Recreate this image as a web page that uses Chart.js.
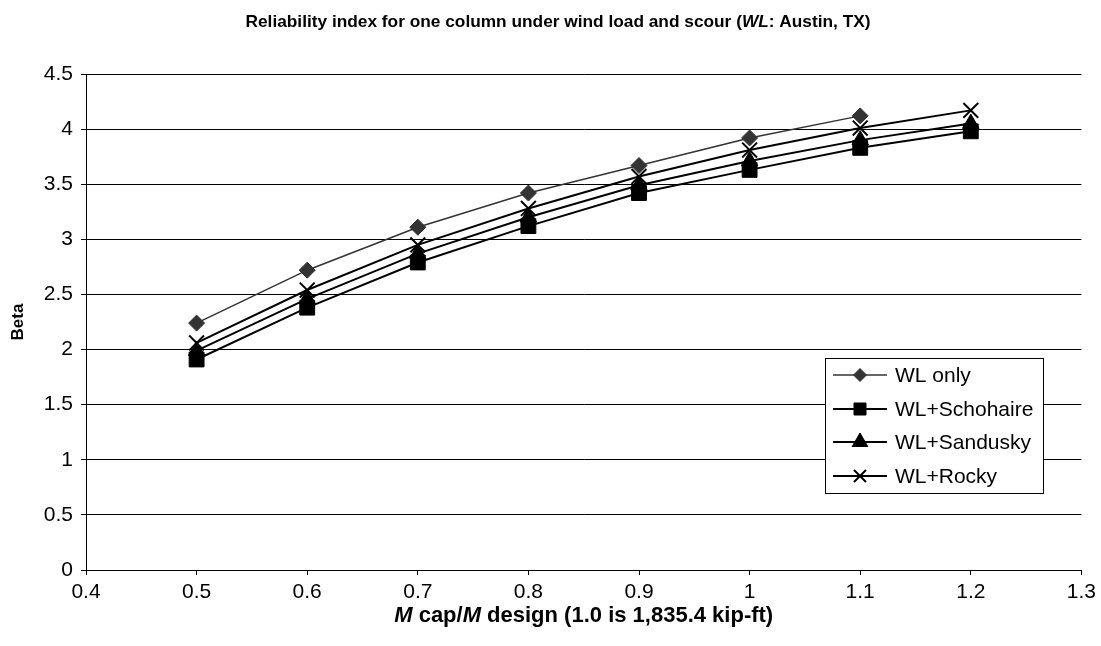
<!DOCTYPE html>
<html><head><meta charset="utf-8">
<script src="https://cdn.jsdelivr.net/npm/chart.js@4/dist/chart.umd.min.js"></script>
<style>html,body{margin:0;padding:0;background:#fff;}#wrap{width:1101px;height:646px;position:relative;}</style>
</head><body><div id="wrap"><canvas id="c" width="1101" height="646"></canvas></div>
<script>
// ---- data ----
const xValues = [0.5, 0.6, 0.7, 0.8, 0.9, 1.0, 1.1, 1.2];
const seriesLabels = ['WL only', 'WL+Schohaire', 'WL+Sandusky', 'WL+Rocky'];
const wlOnly      = [2.24, 2.72, 3.11, 3.42, 3.67, 3.92, 4.12, null];
const wlSchohaire = [1.91, 2.38, 2.79, 3.12, 3.42, 3.63, 3.83, 3.98];
const wlSandusky  = [1.99, 2.46, 2.87, 3.20, 3.49, 3.71, 3.90, 4.05];
const wlRocky     = [2.06, 2.54, 2.95, 3.28, 3.57, 3.81, 4.01, 4.17];
const xAxisRange = [0.4, 1.3, 0.1];
const yAxisRange = [0, 4.5, 0.5];

const FAM = '"Liberation Sans", Arial, Helvetica, sans-serif';

function pts(vals){ return xValues.map((x,i)=>({x:x, y:vals[i]})).filter(p=>p.y!==null); }
function fmt(v){ return String(Number(v.toFixed(2))); }

const styles = [
  {color:'#333333', width:1.5, style:'rectRot', r:8, lr:6.5, bw:1},
  {color:'#000000', width:2, style:'rect', r:10.5, lr:8.5, bw:1},
  {color:'#000000', width:2, style:'triangle', r:9.5, lr:9, bw:1},
  {color:'#000000', width:2, style:'crossRot', r:10.5, lr:8.5, bw:2}
];
const allVals = [wlOnly, wlSchohaire, wlSandusky, wlRocky];

const datasets = allVals.map((v,i)=>({
  label: seriesLabels[i],
  data: pts(v),
  showLine: true,
  borderColor: styles[i].color,
  backgroundColor: styles[i].color,
  borderWidth: styles[i].width,
  pointStyle: styles[i].style,
  pointRadius: styles[i].r,
  pointBorderWidth: styles[i].bw,
  pointBorderColor: styles[i].color,
  pointBackgroundColor: styles[i].color,
  tension: 0
}));

function drawRich(ctx, parts, cx, cy){
  let total = 0;
  parts.forEach(p=>{ ctx.font = p.f; p.w = ctx.measureText(p.t).width; total += p.w; });
  let x = cx - total/2;
  ctx.textBaseline = 'middle'; ctx.textAlign = 'left'; ctx.fillStyle = '#000';
  parts.forEach(p=>{ ctx.font = p.f; ctx.fillText(p.t, x, cy); x += p.w; });
}

const annotations = {
  id: 'annotations',
  afterDraw(chart){
    const ctx = chart.ctx;
    const ca = chart.chartArea;
    ctx.save();
    const B = 'bold 17.3px ' + FAM, BI = 'italic bold 17.3px ' + FAM;
    drawRich(ctx, [
      {t:'Reliability index for one column under wind load and scour (', f:B},
      {t:'WL', f:BI},
      {t:': Austin, TX)', f:B}
    ], 558, 22);
    const XB = 'bold 22px ' + FAM, XBI = 'italic bold 22px ' + FAM;
    drawRich(ctx, [
      {t:'M', f:XBI}, {t:' cap/', f:XB}, {t:'M', f:XBI},
      {t:' design (1.0 is 1,835.4 kip-ft)', f:XB}
    ], (ca.left+ca.right)/2, 616);
    // y title
    ctx.save();
    ctx.translate(18, (ca.top+ca.bottom)/2);
    ctx.rotate(-Math.PI/2);
    ctx.font = 'bold 17px ' + FAM; ctx.textAlign='center'; ctx.textBaseline='middle';
    ctx.fillText('Beta', 0, 0);
    ctx.restore();
    // legend
    const lx = 825, ly = 358, lw = 218, lh = 135;
    ctx.fillStyle = '#fff';
    ctx.fillRect(lx, ly, lw, lh);
    ctx.strokeStyle = '#000'; ctx.lineWidth = 1;
    ctx.strokeRect(lx+0.5, ly+0.5, lw, lh);
    const rows = [375, 409, 442, 476];
    chart.data.datasets.forEach((ds,i)=>{
      const y = rows[i];
      const s = styles[i];
      ctx.strokeStyle = s.color; ctx.lineWidth = s.width;
      ctx.beginPath(); ctx.moveTo(833, y); ctx.lineTo(887, y); ctx.stroke();
      ctx.fillStyle = s.color; ctx.strokeStyle = s.color; ctx.lineWidth = s.bw;
      Chart.helpers.drawPoint(ctx, {pointStyle:s.style, radius:s.lr, rotation:0, borderWidth:s.bw}, 860, y);
      ctx.fillStyle = '#000';
      ctx.font = '21px ' + FAM; ctx.textAlign='left'; ctx.textBaseline='middle';
      ctx.fillText(ds.label, 895, y+1);
    });
    ctx.restore();
  }
};

new Chart(document.getElementById('c'), {
  type: 'scatter',
  data: { datasets },
  options: {
    responsive: false,
    animation: false,
    devicePixelRatio: 1,
    layout: { padding: { left: 0, right: 19, top: 74, bottom: 36 } },
    plugins: { legend: {display:false}, title:{display:false}, tooltip:{enabled:false} },
    scales: {
      x: {
        type: 'linear', min: xAxisRange[0], max: xAxisRange[1],
        ticks: { stepSize: xAxisRange[2], color:'#000', font:{family:FAM, size:21}, padding: 5, callback: v=>fmt(v) },
        grid: { drawOnChartArea:false, color:'#000', tickLength:5, lineWidth:1 },
        border: { color:'#000', width:1 },
        afterFit(s){ s.height = 40; }
      },
      y: {
        min: yAxisRange[0], max: yAxisRange[1],
        ticks: { stepSize: yAxisRange[2], color:'#000', font:{family:FAM, size:21}, padding: 8, callback: v=>fmt(v) },
        grid: { color:'#000', tickLength:5, lineWidth:1 },
        border: { color:'#000', width:1 },
        afterFit(s){ s.width = 86; }
      }
    }
  },
  plugins: [annotations]
});
</script></body></html>
